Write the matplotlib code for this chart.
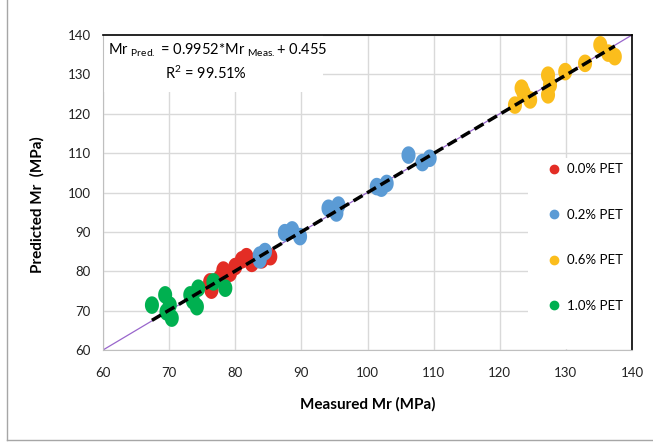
import numpy as np
import matplotlib
matplotlib.use("Agg")
import matplotlib.pyplot as plt
from matplotlib.path import Path
from matplotlib.patches import Rectangle
from matplotlib.lines import Line2D

plt.rcParams['font.family'] = ['Lato', 'DejaVu Sans']
plt.rcParams['mathtext.default'] = 'regular'

# measured vs predicted Mr (MPa) for each PET content
pet_00_meas = [76.2, 76.4, 77.7, 78.2, 79.2, 80.0, 81.0, 81.7, 82.5, 84.0, 85.3]
pet_00_pred = [77.3, 75.2, 78.3, 80.3, 79.5, 81.2, 82.9, 83.7, 82.0, 82.9, 83.7]

pet_02_meas = [83.7, 84.5, 83.7, 87.5, 88.6, 89.8, 94.1, 95.6, 95.3, 101.4, 102.1, 102.9, 106.2, 108.3, 109.4]
pet_02_pred = [84.1, 85.0, 82.9, 89.8, 90.5, 88.8, 96.0, 96.8, 94.8, 101.5, 101.1, 102.3, 109.5, 107.6, 108.7]

pet_06_meas = [122.3, 123.3, 123.6, 124.6, 127.3, 127.3, 127.6, 129.9, 132.9, 135.2, 136.4, 137.4]
pet_06_pred = [122.2, 126.5, 125.3, 123.5, 129.8, 124.8, 127.3, 130.7, 132.8, 137.5, 135.4, 134.5]

pet_10_meas = [67.4, 69.4, 69.6, 70.1, 70.4, 73.2, 73.6, 74.2, 74.4, 76.7, 78.5]
pet_10_pred = [71.4, 74.0, 69.7, 71.4, 68.1, 74.0, 72.5, 71.0, 75.7, 77.3, 75.7]

labels = ['0.0% PET', '0.2% PET', '0.6% PET', '1.0% PET']
colors = ['#E32D25', '#5B9BD5', '#FBBD1C', '#00B050']

slope, intercept = 0.9952, 0.455

# stretched circle, like the excel markers
t = np.linspace(0, 2 * np.pi, 60)
ellipse = Path(np.column_stack([0.8 * np.cos(t), np.sin(t)]))

fig = plt.figure(figsize=(6.53, 4.43), dpi=100)
ax = fig.add_axes([103 / 653, 93 / 443, 529 / 653, 315 / 443])

groups = [(pet_00_meas, pet_00_pred), (pet_02_meas, pet_02_pred),
          (pet_06_meas, pet_06_pred), (pet_10_meas, pet_10_pred)]
for (mx, my), c in zip(groups, colors):
    ax.scatter(mx, my, marker=ellipse, s=160, color=c, edgecolors='none', zorder=3)

# line of equality
ax.plot([60, 140], [60, 140], color='#9966CC', lw=0.9, zorder=2)

# fitted line over the data range
all_x = np.concatenate([np.array(g[0]) for g in groups])
fx = np.array([all_x.min(), all_x.max()])
ax.plot(fx, slope * fx + intercept, color='black', lw=2.5, dashes=(3.0, 1.5), zorder=4)

ax.set_xlim(60, 140)
ax.set_ylim(60, 140)
ax.set_xticks(range(60, 141, 10))
ax.set_yticks(range(60, 141, 10))
ax.set_axisbelow(True)
ax.grid(True, color='#D9D9D9', lw=1)
ax.tick_params(length=0, labelsize=9.5, colors='#222222')
ax.tick_params(axis='x', pad=12)
ax.tick_params(axis='y', pad=9)

for s in ['left', 'bottom']:
    ax.spines[s].set_color('#BFBFBF')
for s in ['top', 'right']:
    ax.spines[s].set_color('black')
    ax.spines[s].set_linewidth(1.2)

ax.set_xlabel('Measured Mr (MPa)', fontsize=11, fontweight='bold')
ax.set_ylabel('Predicted Mr  (MPa)', fontsize=11, fontweight='bold')
ax.xaxis.set_label_coords(0.5, -0.15)
ax.yaxis.set_label_coords(-0.11, 0.46)

# white boxes behind equation text and legend
ax.add_patch(Rectangle((0, 0.82), 0.416, 0.18, transform=ax.transAxes,
                       facecolor='white', edgecolor='none', zorder=0.8))
ax.add_patch(Rectangle((0.803, 0.003), 0.195, 0.607, transform=ax.transAxes,
                       facecolor='white', edgecolor='none', zorder=0.8))

ax.text(0.01, 0.952, 'Mr $_{Pred.}$ = 0.9952*Mr $_{Meas.}$+ 0.455', transform=ax.transAxes,
        fontsize=10.5, va='center', ha='left', zorder=5)
ax.text(0.195, 0.879, 'R$^2$ = 99.51%', transform=ax.transAxes,
        fontsize=10.5, va='center', ha='center', zorder=5)

handles = [Line2D([], [], marker='o', ls='none', color=c, markersize=6) for c in colors]
leg = ax.legend(handles, labels, loc='upper left', bbox_to_anchor=(0.83, 0.61),
                frameon=False, fontsize=9.5, labelspacing=2.55, handletextpad=0.5,
                handlelength=1.0, borderaxespad=0)

# outer chart border
fig.add_artist(Line2D([7 / 653, 7 / 653], [3 / 443, 1], transform=fig.transFigure,
                      color='#A6A6A6', lw=1))
fig.add_artist(Line2D([7 / 653, 1], [3 / 443, 3 / 443], transform=fig.transFigure,
                      color='#A6A6A6', lw=1))

fig.savefig('out.png', dpi=100)
